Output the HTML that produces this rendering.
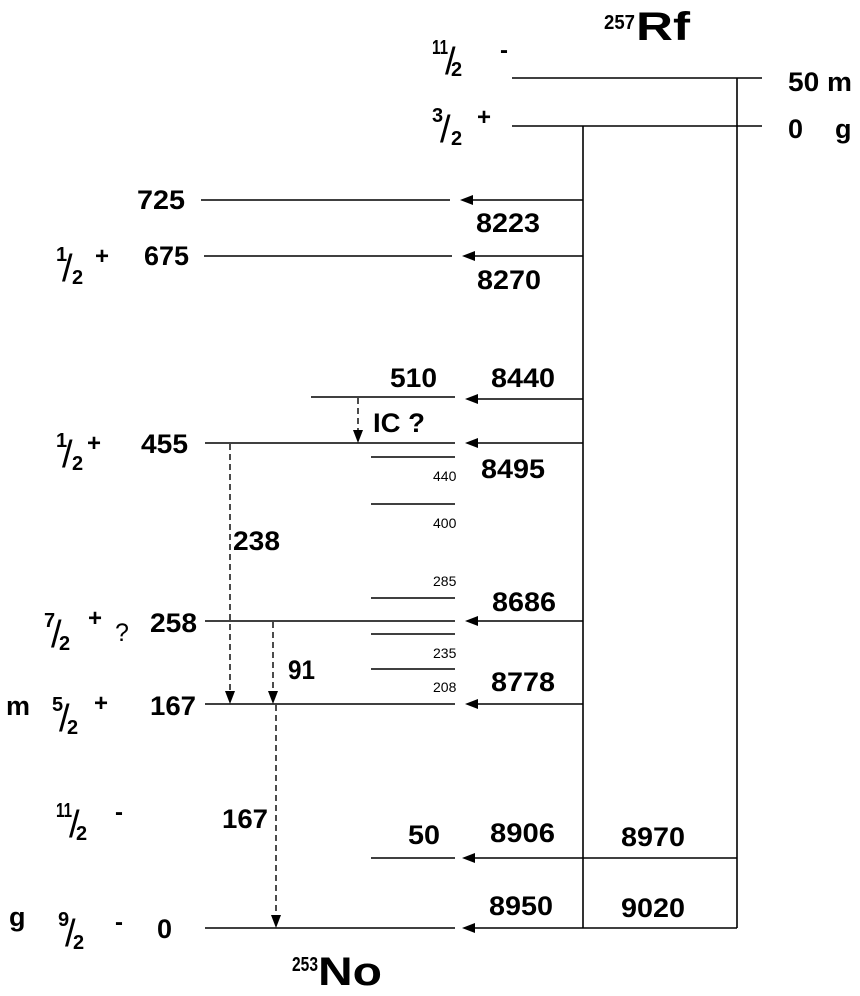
<!DOCTYPE html>
<html><head><meta charset="utf-8"><style>
html,body{margin:0;padding:0;background:#fff;}
svg{display:block;}
text{font-family:"Liberation Sans",Arial,sans-serif;font-weight:bold;fill:#000;}
.b{font-size:27px;}
.s{font-size:14px;font-weight:normal;}
.f{font-size:20px;}
.sl{font-size:38px;font-weight:normal;}
.p{font-size:24px;}
</style></head><body>
<svg width="860" height="996" viewBox="0 0 860 996" xmlns="http://www.w3.org/2000/svg">
<g stroke="#000" stroke-width="1.6" fill="none">
<line x1="512" y1="78" x2="762" y2="78"/>
<line x1="512" y1="126" x2="762" y2="126"/>
<line x1="583" y1="126" x2="583" y2="928"/>
<line x1="737" y1="78" x2="737" y2="928"/>
<line x1="201" y1="200" x2="450" y2="200"/>
<line x1="204" y1="256" x2="452" y2="256"/>
<line x1="311" y1="397" x2="455" y2="397"/>
<line x1="205" y1="443" x2="455" y2="443"/>
<line x1="371" y1="457" x2="455" y2="457"/>
<line x1="371" y1="504" x2="455" y2="504"/>
<line x1="371" y1="598" x2="455" y2="598"/>
<line x1="205" y1="621" x2="455" y2="621"/>
<line x1="371" y1="634" x2="455" y2="634"/>
<line x1="371" y1="669" x2="455" y2="669"/>
<line x1="205" y1="704" x2="455" y2="704"/>
<line x1="371" y1="858" x2="455" y2="858"/>
<line x1="205" y1="928" x2="455" y2="928"/>
<line x1="583" y1="200" x2="470" y2="200"/>
<line x1="583" y1="256" x2="472" y2="256"/>
<line x1="583" y1="399" x2="475" y2="399"/>
<line x1="583" y1="443" x2="475" y2="443"/>
<line x1="583" y1="621" x2="475" y2="621"/>
<line x1="583" y1="704" x2="475" y2="704"/>
<line x1="737" y1="858" x2="472" y2="858"/>
<line x1="737" y1="928" x2="472" y2="928"/>
</g>
<g fill="#000">
<path d="M460,200 L473,195 L473,205 Z"/>
<path d="M462,256 L475,251 L475,261 Z"/>
<path d="M465,399 L478,394 L478,404 Z"/>
<path d="M465,443 L478,438 L478,448 Z"/>
<path d="M465,621 L478,616 L478,626 Z"/>
<path d="M465,704 L478,699 L478,709 Z"/>
<path d="M462,858 L475,853 L475,863 Z"/>
<path d="M462,928 L475,923 L475,933 Z"/>
<path d="M353,430 L363,430 L358,443 Z"/>
<path d="M225,691 L235,691 L230,704 Z"/>
<path d="M268,691 L278,691 L273,704 Z"/>
<path d="M271,915 L281,915 L276,928 Z"/>
</g>
<g stroke="#000" stroke-width="1.4" fill="none" stroke-dasharray="6,4">
<line x1="358" y1="398" x2="358" y2="431"/>
<line x1="230" y1="444" x2="230" y2="692"/>
<line x1="273" y1="622" x2="273" y2="692"/>
<line x1="276" y1="705" x2="276" y2="916"/>
</g>
<text x="604" y="29" class="f" textLength="31" lengthAdjust="spacingAndGlyphs">257</text>
<text x="636" y="40" style="font-size:40px" textLength="54" lengthAdjust="spacingAndGlyphs">Rf</text>
<text x="292" y="971" class="f" textLength="26" lengthAdjust="spacingAndGlyphs">253</text>
<text x="318" y="985" style="font-size:40px" textLength="64" lengthAdjust="spacingAndGlyphs">No</text>

<text x="432" y="54" class="f" textLength="16" lengthAdjust="spacingAndGlyphs">11</text><text x="445" y="74" class="sl">/</text><text x="451" y="76" class="f">2</text><text x="500" y="58" class="p">-</text>
<text x="432" y="122" class="f">3</text><text x="440" y="142" class="sl">/</text><text x="451" y="145" class="f">2</text><text x="477" y="125" class="p">+</text>
<text x="56" y="261" class="f">1</text><text x="62" y="281" class="sl">/</text><text x="72" y="284" class="f">2</text><text x="95" y="264" class="p">+</text>
<text x="56" y="447" class="f">1</text><text x="62" y="467" class="sl">/</text><text x="72" y="470" class="f">2</text><text x="87" y="451" class="p">+</text>
<text x="44" y="627" class="f">7</text><text x="51" y="647" class="sl">/</text><text x="59" y="650" class="f">2</text><text x="88" y="626" class="p">+</text><text x="115" y="641" style="font-size:25px;font-weight:normal">?</text>
<text x="52" y="711" class="f">5</text><text x="59" y="731" class="sl">/</text><text x="67" y="734" class="f">2</text><text x="94" y="711" class="p">+</text>
<text x="56" y="817" class="f" textLength="16" lengthAdjust="spacingAndGlyphs">11</text><text x="69" y="837" class="sl">/</text><text x="76" y="840" class="f">2</text><text x="115" y="820" class="p">-</text>
<text x="58" y="926" class="f">9</text><text x="65" y="946" class="sl">/</text><text x="73" y="949" class="f">2</text><text x="115" y="930" class="p">-</text>

<text x="788" y="91" class="b" textLength="64" lengthAdjust="spacingAndGlyphs">50 m</text>
<text x="788" y="138" class="b">0</text><text x="835" y="138" class="b">g</text>
<text x="137" y="209" class="b" textLength="48" lengthAdjust="spacingAndGlyphs">725</text>
<text x="476" y="232" class="b" textLength="64" lengthAdjust="spacingAndGlyphs">8223</text>
<text x="144" y="265" class="b" textLength="45" lengthAdjust="spacingAndGlyphs">675</text>
<text x="477" y="289" class="b" textLength="64" lengthAdjust="spacingAndGlyphs">8270</text>
<text x="390" y="387" class="b" textLength="47" lengthAdjust="spacingAndGlyphs">510</text>
<text x="491" y="387" class="b" textLength="64" lengthAdjust="spacingAndGlyphs">8440</text>
<text x="373" y="432" class="b" textLength="52" lengthAdjust="spacingAndGlyphs">IC ?</text>
<text x="141" y="453" class="b" textLength="47" lengthAdjust="spacingAndGlyphs">455</text>
<text x="481" y="478" class="b" textLength="64" lengthAdjust="spacingAndGlyphs">8495</text>
<text x="433" y="481" class="s">440</text>
<text x="433" y="528" class="s">400</text>
<text x="433" y="586" class="s">285</text>
<text x="433" y="658" class="s">235</text>
<text x="433" y="692" class="s">208</text>
<text x="233" y="550" class="b" textLength="47" lengthAdjust="spacingAndGlyphs">238</text>
<text x="492" y="611" class="b" textLength="64" lengthAdjust="spacingAndGlyphs">8686</text>
<text x="150" y="632" class="b" textLength="47" lengthAdjust="spacingAndGlyphs">258</text>
<text x="288" y="679" class="b" textLength="27" lengthAdjust="spacingAndGlyphs">91</text>
<text x="491" y="691" class="b" textLength="64" lengthAdjust="spacingAndGlyphs">8778</text>
<text x="6" y="715" class="b">m</text>
<text x="150" y="715" class="b" textLength="46" lengthAdjust="spacingAndGlyphs">167</text>
<text x="222" y="828" class="b" textLength="46" lengthAdjust="spacingAndGlyphs">167</text>
<text x="408" y="844" class="b" textLength="32" lengthAdjust="spacingAndGlyphs">50</text>
<text x="490" y="842" class="b" textLength="65" lengthAdjust="spacingAndGlyphs">8906</text>
<text x="621" y="846" class="b" textLength="64" lengthAdjust="spacingAndGlyphs">8970</text>
<text x="489" y="915" class="b" textLength="64" lengthAdjust="spacingAndGlyphs">8950</text>
<text x="621" y="917" class="b" textLength="64" lengthAdjust="spacingAndGlyphs">9020</text>
<text x="9" y="926" class="b">g</text>
<text x="157" y="938" class="b">0</text>
</svg>
</body></html>
